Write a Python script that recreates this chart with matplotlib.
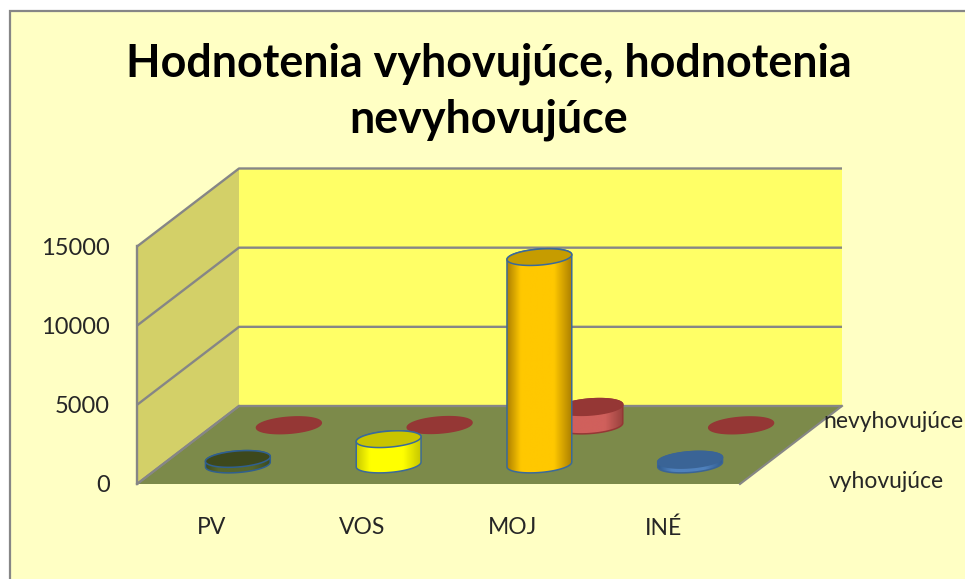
import numpy as np
import matplotlib
matplotlib.use("Agg")
import matplotlib.pyplot as plt
from matplotlib.colors import LinearSegmentedColormap
from matplotlib.patches import Polygon, PathPatch, Rectangle
from matplotlib.path import Path
from matplotlib.transforms import Affine2D

plt.rcParams['font.family'] = ['Lato', 'DejaVu Sans']

categories = ["PV", "VOS", "MOJ", "INÉ"]
vyhovujuce = [350, 1600, 13100, 300]
nevyhovujuce = [15, 30, 1170, 10]
yticks = [0, 5000, 10000, 15000]
series_names = ["vyhovujúce", "nevyhovujúce"]
title = "Hodnotenia vyhovujúce, hodnotenia\nnevyhovujúce"

# colours per point: side edge, side middle, top, outline
front_colors = [("#3a4a20", "#56662c", "#3d481c", "#2f5f8f"),
                ("#c4c400", "#ffff00", "#c9c400", "#3a6a9a"),
                ("#a87c00", "#ffc800", "#c69c00", "#3a6a9a"),
                ("#2f5a8c", "#4f81bd", "#3a6496", "#3a6496")]
back_color = ("#96403c", "#d0605c", "#953735", "#953735")

BG = "#ffffc4"
WALL = "#ffff66"
SIDE = "#d3d068"
FLOOR = "#7c8a4a"
GRID = "#868686"

# oblique projection: category position and value to pixels, for a depth 0..1
FLOOR_X0, FLOOR_Y0 = 137.0, 484.0
CAT_W = 150.75
VAL_H = 237.5 / 15000
DEPTH_X, DEPTH_Y = 102.0, 78.0


def project(depth):
    return Affine2D().scale(CAT_W, -VAL_H).translate(FLOOR_X0 + DEPTH_X * depth, FLOOR_Y0 - DEPTH_Y * depth)


fig = plt.figure(figsize=(9.65, 5.79), dpi=100)
ax = fig.add_axes([0, 0, 1, 1])
ax.set_xlim(0, 965)
ax.set_ylim(579, 0)
ax.axis("off")

ax.add_patch(Rectangle((9.5, 10.5), 975, 590, fc=BG, ec=GRID, lw=1.6, zorder=0))

n = len(categories)
top = yticks[-1]
front = project(0)
back = project(1)


def pts(tf, *xy):
    return tf.transform(np.array(xy, dtype=float))


# walls and floor
ax.add_patch(Polygon(np.vstack([pts(back, (0, 0), (n, 0), (n, top), (0, top))]), fc=WALL, ec="none", zorder=1))
ax.add_patch(Polygon(np.vstack([pts(front, (0, 0), (0, top)), pts(back, (0, top), (0, 0))]), fc=SIDE, ec="none", zorder=1))
ax.add_patch(Polygon(np.vstack([pts(front, (0, 0), (n, 0)), pts(back, (n, 0), (0, 0))]), fc=FLOOR, ec="none", zorder=1))

# gridlines over both walls
for v in yticks:
    a = pts(front, (0, v))[0]
    b = pts(back, (0, v))[0]
    c = pts(back, (n, v))[0]
    ax.plot([a[0], b[0], c[0]], [a[1], b[1], c[1]], color=GRID, lw=1.7, zorder=2, solid_capstyle="butt")
a = pts(front, (n, 0))[0]
b = pts(back, (n, 0))[0]
ax.plot([a[0], b[0]], [a[1], b[1]], color=GRID, lw=1.5, zorder=2)
a = pts(front, (0, 0))[0]
b = pts(front, (0, top))[0]
ax.plot([a[0], b[0]], [a[1], b[1]], color=GRID, lw=1.7, zorder=2)
a = pts(front, (0, 0))[0]
b = pts(back, (0, 0))[0]
ax.plot([a[0], b[0]], [a[1], b[1]], color=GRID, lw=1.5, zorder=2)

# cylinder shape in pixels
RX, RY, TILT = 32.5, 8.0, np.deg2rad(-4.5)


def ellipse(cx, cy, t):
    x = RX * np.cos(t)
    y = RY * np.sin(t)
    return np.column_stack([cx + x * np.cos(TILT) - y * np.sin(TILT),
                            cy + x * np.sin(TILT) + y * np.cos(TILT)])


def cylinder(tf, pos, value, colors, z):
    edge, mid, top_c, outline = colors
    bx, by = tf.transform((pos, 0))
    tx, ty = tf.transform((pos, value))
    t = np.linspace(0, 2 * np.pi, 121)
    ring = ellipse(tx, ty, t)
    if abs(by - ty) > 1.5:
        # x extremes of the tilted ellipse, for the side outline
        t0 = np.arctan2(-RY * np.sin(TILT), RX * np.cos(TILT))
        lower = ellipse(bx, by, np.linspace(t0, t0 + np.pi, 60))
        upper = ellipse(tx, ty, np.linspace(t0 + np.pi, t0 + 2 * np.pi, 60))
        body = np.vstack([lower, upper, lower[:1]])
        patch = PathPatch(Path(body, closed=True), fc="none", ec=outline, lw=1.1, zorder=z + 0.2)
        ax.add_patch(patch)
        cmap = LinearSegmentedColormap.from_list("c", [(0, edge), (0.22, mid), (0.72, mid), (1, edge)])
        g = np.linspace(0, 1, 128).reshape(1, -1)
        im = ax.imshow(g, cmap=cmap, aspect="auto", zorder=z + 0.1,
                       extent=[bx - RX - 1, bx + RX + 1, by + RY + 2, ty - RY - 2])
        im.set_clip_path(PathPatch(Path(body, closed=True), transform=ax.transData))
    ax.add_patch(Polygon(ring, fc=top_c, ec=outline, lw=1.1, zorder=z + 0.3))


# back row first, front row over it
back_row = project(0.75)
front_row = project(0.25)
for i in range(n):
    cylinder(back_row, i + 0.5, nevyhovujuce[i], back_color, 3)
for i in range(n):
    cylinder(front_row, i + 0.5, vyhovujuce[i], front_colors[i], 5)

# the plot area keeps the image limits after imshow
ax.set_xlim(0, 965)
ax.set_ylim(579, 0)

# texts
ax.text(489, 92, title, ha="center", va="center", fontsize=32.3, fontweight="bold", color="black", linespacing=1.4)
for v in yticks:
    p = pts(front, (0, v))[0]
    ax.text(110, p[1] + 2, str(v), ha="right", va="center", fontsize=17, color="#262626")
for i, c in enumerate(categories):
    p = pts(front, (i + 0.5, 0))[0]
    ax.text(p[0] - 1, 528, c, ha="center", va="center", fontsize=16.5, color="#262626")
ax.text(886, 481, series_names[0], ha="center", va="center", fontsize=16.5, color="#262626")
ax.text(893, 421, series_names[1], ha="center", va="center", fontsize=16.5, color="#262626")

fig.savefig("out.png", dpi=100)
